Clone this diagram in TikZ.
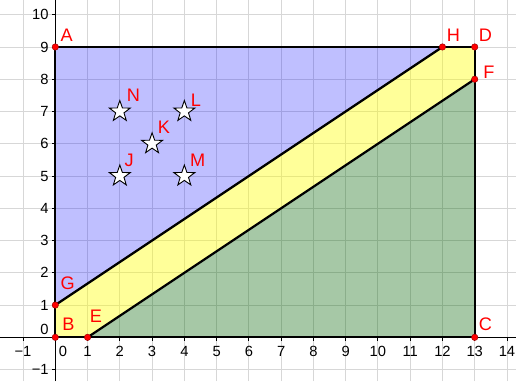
\documentclass[tikz,border=0pt]{standalone}
\usepackage{fontspec}
\setmainfont{Liberation Sans}
\usetikzlibrary{shapes.geometric}
\definecolor{ggblue}{RGB}{0,0,255}
\definecolor{ggyellow}{RGB}{255,255,0}
\definecolor{gggreen}{RGB}{0,100,0}
\definecolor{gridgray}{RGB}{215,215,215}
\begin{document}
\begin{tikzpicture}[x=1cm,y=1cm,
  gridline/.style={draw=gridgray, line width=0.8pt},
  axisline/.style={black, line width=0.8pt},
  edge/.style={black, line width=2pt, line join=round, line cap=round},
  pt/.style={circle, fill=red, draw=red!60!black, line width=0.4pt, inner sep=0pt, minimum size=0.2cm},
  lbl/.style={text=red, font=\fontsize{16}{18}\selectfont, inner sep=0pt},
  ticklbl/.style={font=\fontsize{13}{15}\selectfont, inner sep=0pt},
  starnode/.style={star, star points=5, star point ratio=2.5, draw=black, fill=white, line width=0.8pt, minimum size=0.68cm, inner sep=0pt}
]
\useasboundingbox (-1.714,-1.355) rectangle (14.28,10.456);
\fill[white] (-1.714,-1.355) rectangle (14.28,10.456);
% grid
\foreach \x in {-1,...,14} \draw[gridline] (\x,-1.355) -- (\x,10.456);
\foreach \y in {-1,...,10} \draw[gridline] (-1.714,\y) -- (14.28,\y);
% points
\coordinate (A) at (0,9);
\coordinate (B) at (0,0);
\coordinate (C) at (13,0);
\coordinate (D) at (13,9);
\coordinate (E) at (1,0);
\coordinate (F) at (13,8);
\coordinate (G) at (0,1);
\coordinate (H) at (12,9);
% fills
\fill[ggblue, fill opacity=0.25] (A) -- (G) -- (H) -- cycle;
\fill[ggyellow, fill opacity=0.4] (G) -- (B) -- (E) -- (F) -- (D) -- (H) -- cycle;
\fill[gggreen, fill opacity=0.35] (E) -- (C) -- (F) -- cycle;
% axes
\coordinate (xl) at (-1.714,0);
\coordinate (xr) at (14.28,0);
\coordinate (yb) at (0,-1.355);
\coordinate (yt) at (0,10.456);
\draw[axisline] (xl) -- (xr);
\draw[axisline] (yb) -- (yt);
\foreach \x in {-1,...,14} \draw[axisline] (\x,0) -- (\x,-0.1);
\foreach \y in {-1,...,10} \draw[axisline] (0,\y) -- (-0.1,\y);
\foreach \x in {-1} \node[ticklbl] at (\x,-0.45) {−\number-\x};
\foreach \x in {1,...,14} \node[ticklbl] at (\x,-0.45) {\x};
\node[ticklbl] at (0.24,-0.45) {0};
\foreach \y in {1,...,10} \node[ticklbl, anchor=east] at (-0.2,\y) {\y};
\node[ticklbl, anchor=east] at (-0.2,-1) {−1};
\node[ticklbl, anchor=east] at (-0.2,0.23) {0};
% edges
\draw[edge] (A) -- (B) -- (C) -- (D) -- cycle;
\draw[edge] (G) -- (H);
\draw[edge] (E) -- (F);
% dots
\foreach \p in {A,B,C,D,E,F,G,H} \node[pt] at (\p) {};
% labels
\node[lbl] (lA) at (0.35,9.37) {A};
\node[lbl] (lH) at (12.34,9.37) {H};
\node[lbl] (lD) at (13.33,9.37) {D};
\node[lbl] (lF) at (13.44,8.21) {F};
\node[lbl] (lC) at (13.33,0.4) {C};
\node[lbl] (lB) at (0.41,0.41) {B};
\node[lbl] (lE) at (1.26,0.64) {E};
\node[lbl] (lG) at (0.38,1.67) {G};
% stars
\node[starnode] (N) at (2,7) {};
\node[starnode] (L) at (4,7) {};
\node[starnode] (K) at (3,6) {};
\node[starnode] (J) at (2,5) {};
\node[starnode] (M) at (4,5) {};
\node[lbl] (lN) at (2.42,7.5) {N};
\node[lbl] (lL) at (4.36,7.35) {L};
\node[lbl] (lK) at (3.37,6.5) {K};
\node[lbl] (lJ) at (2.29,5.48) {J};
\node[lbl] (lM) at (4.41,5.48) {M};
\end{tikzpicture}
\end{document}
